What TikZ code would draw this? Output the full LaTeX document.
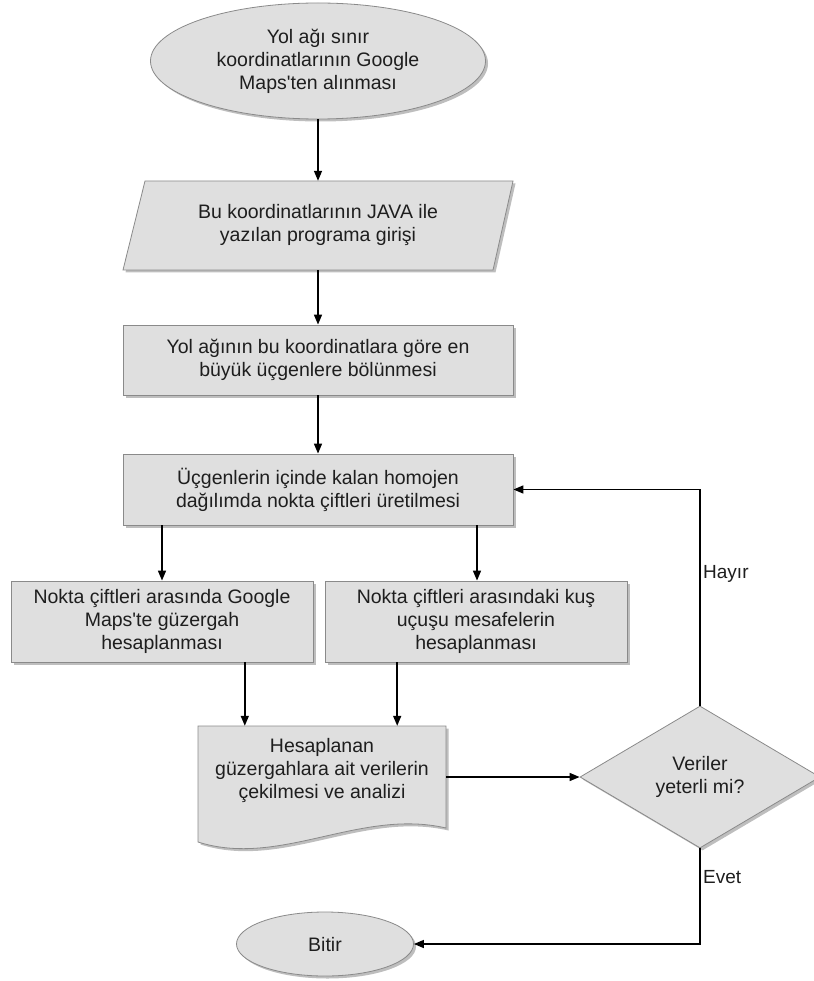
\documentclass[tikz,border=0pt]{standalone}
\usepackage{fontspec}
\setmainfont{Liberation Sans}
\usetikzlibrary{shapes.geometric,shadows,arrows.meta,calc}
\definecolor{boxfill}{HTML}{DFDFDF}
\definecolor{boxline}{HTML}{8A8A8A}
\definecolor{txt}{HTML}{1E1E1E}
\definecolor{shadowc}{HTML}{6E6E6E}
\begin{document}
\begin{tikzpicture}[x=1pt,y=-1pt,
  every node/.style={font=\fontsize{19.5}{23}\selectfont, text=txt, align=center, inner sep=0pt},
  shade/.style={drop shadow={shadow xshift=2.5pt,shadow yshift=-2.5pt,opacity=0.45,fill=shadowc}},
  boxstyle/.style={draw=boxline, fill=boxfill, line width=0.8pt},
  procbox/.style={boxstyle, shade, rectangle},
  termbox/.style={boxstyle, shade, ellipse},
  ghost/.style={rectangle},
  flow/.style={-{Triangle[length=10pt,width=8pt]}, line width=1.5pt, black},
  lbl/.style={anchor=west, font=\fontsize{19}{22}\selectfont}
]
\useasboundingbox (0,0) rectangle (813,981);

% start terminal
\node[termbox, minimum width=335pt, minimum height=116pt] (start) at (318,61)
  {Yol ağı sınır\\koordinatlarının Google\\Maps\textquotesingle ten alınması};

% input parallelogram
\fill[shadowc, opacity=0.45, transform canvas={shift={(2.5pt,-2.5pt)}}]
  (123,270) -- (493,270) -- (513,181) -- (145,181) -- cycle;
\draw[boxstyle] (123,270) -- (493,270) -- (513,181) -- (145,181) -- cycle;
\node[ghost, minimum width=390pt, minimum height=89pt] (input) at (318,225.5)
  {Bu koordinatlarının JAVA ile\\yazılan programa girişi};

% process boxes
\node[procbox, minimum width=390pt, minimum height=70pt] (split) at (318,360)
  {Yol ağının bu koordinatlara göre en\\büyük üçgenlere bölünmesi};
\node[procbox, minimum width=390pt, minimum height=71pt] (gen) at (318,489.5)
  {Üçgenlerin içinde kalan homojen\\dağılımda nokta çiftleri üretilmesi};
\node[procbox, minimum width=302pt, minimum height=81pt] (route) at (162,621.5)
  {Nokta çiftleri arasında Google\\Maps\textquotesingle te güzergah\\hesaplanması};
\node[procbox, minimum width=302pt, minimum height=81pt] (bird) at (476,621.5)
  {Nokta çiftleri arasındaki kuş\\uçuşu mesafelerin\\hesaplanması};

% document shape
\fill[shadowc, opacity=0.45, transform canvas={shift={(2.5pt,-2.5pt)}}]
  (198,726) -- (198,842) .. controls (280,868) and (360,808) .. (446,828) -- (446,726) -- cycle;
\draw[boxstyle]
  (198,726) -- (198,842) .. controls (280,868) and (360,808) .. (446,828) -- (446,726) -- cycle;
\node[ghost, minimum width=248pt, minimum height=88pt] (doc) at (322,770)
  {Hesaplanan\\güzergahlara ait verilerin\\çekilmesi ve analizi};

% decision
\node[boxstyle, shade, diamond, minimum width=240pt, minimum height=142pt, aspect=1.69] (dec) at (700,777)
  {Veriler\\yeterli mi?};

% end terminal
\node[termbox, minimum width=177pt, minimum height=64pt] (stop) at (325,944) {Bitir};

% connectors
\draw[flow] (start.south) -- (input.north);
\draw[flow] (input.south) -- (split.north);
\draw[flow] (split.south) -- (gen.north);
\draw[flow] (route.north |- gen.south) -- (route.north);
\draw[flow] ([xshift=1pt]bird.north |- gen.south) -- ([xshift=1pt]bird.north);
\draw[flow] ([xshift=47pt]doc.north west |- route.south) -- ([xshift=47pt]doc.north west);
\draw[flow] ([xshift=-49pt]doc.north east |- bird.south) -- ([xshift=-49pt]doc.north east);
\draw[flow] (dec.west -| doc.east) -- (dec.west);
\draw[flow] (dec.north) |- (gen.east);
\draw[flow] (dec.south) |- (stop.east);

% labels
\node[lbl] (hayir) at (703,574) {Hayır};
\node[lbl] (evet) at (703,877) {Evet};
\end{tikzpicture}
\end{document}
